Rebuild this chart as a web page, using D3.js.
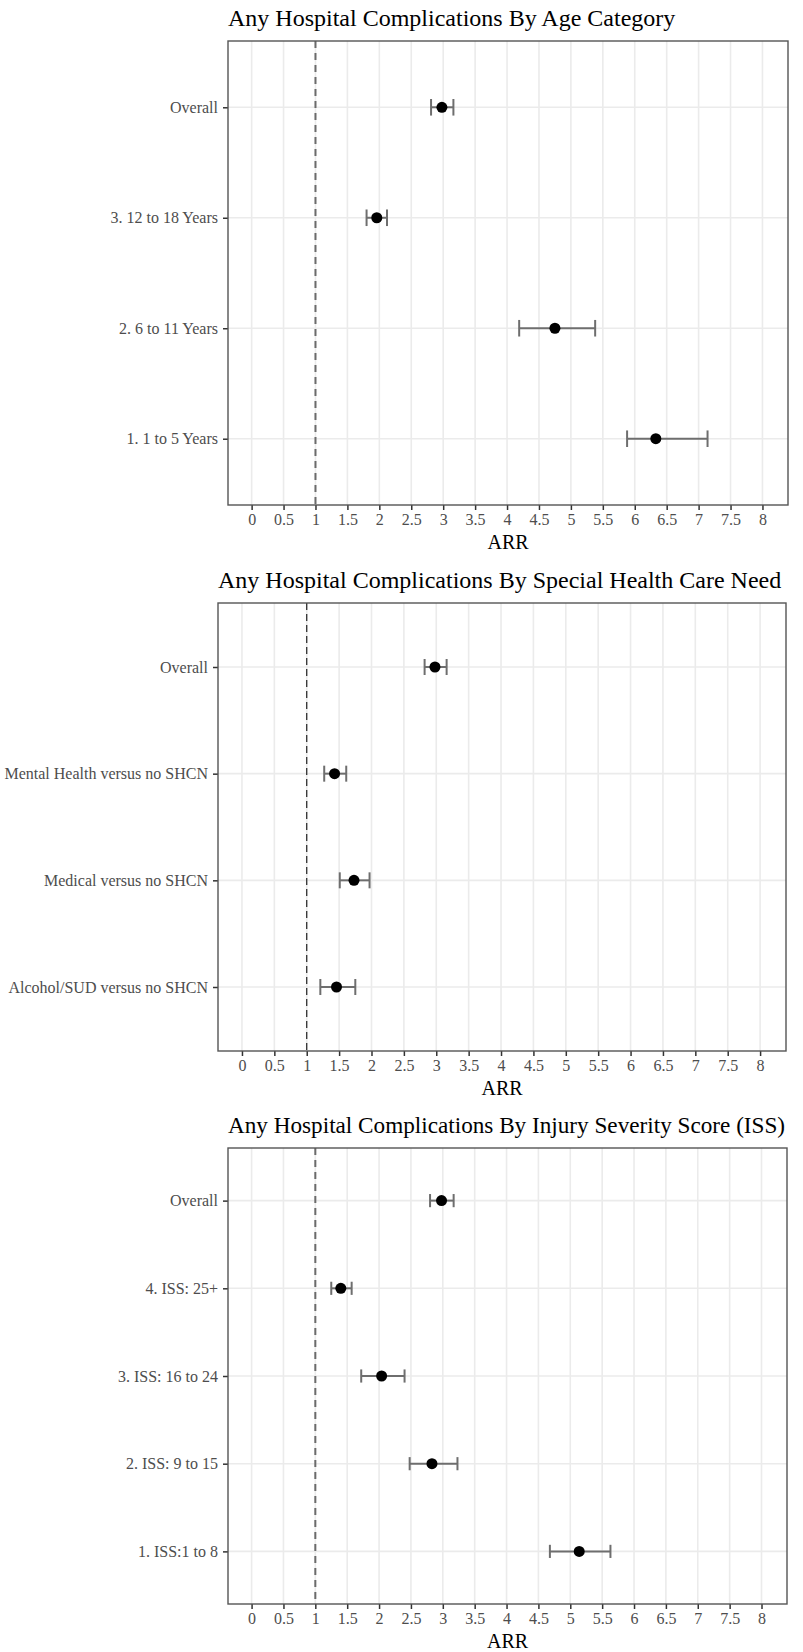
<!DOCTYPE html>
<html>
<head>
<meta charset="utf-8">
<script src="https://cdn.jsdelivr.net/npm/d3@7"></script>
<style>
  body { margin: 0; background: #fff; }
  text { font-family: "Liberation Serif", "Times New Roman", serif; }
</style>
</head>
<body>
<svg id="chart"></svg>
<script>
const xTicks = [0, 0.5, 1, 1.5, 2, 2.5, 3, 3.5, 4, 4.5, 5, 5.5, 6, 6.5, 7, 7.5, 8];

const ageCats = ["Overall", "3. 12 to 18 Years", "2. 6 to 11 Years", "1. 1 to 5 Years"];
const ageEst = [2.98, 1.96, 4.75, 6.33];
const ageLo  = [2.81, 1.80, 4.19, 5.88];
const ageHi  = [3.16, 2.12, 5.38, 7.14];

const shcnCats = ["Overall", "Mental Health versus no SHCN", "Medical versus no SHCN", "Alcohol/SUD versus no SHCN"];
const shcnEst = [2.98, 1.43, 1.73, 1.46];
const shcnLo  = [2.82, 1.27, 1.51, 1.21];
const shcnHi  = [3.16, 1.61, 1.97, 1.75];

const issCats = ["Overall", "4. ISS: 25+", "3. ISS: 16 to 24", "2. ISS: 9 to 15", "1. ISS:1 to 8"];
const issEst = [2.98, 1.40, 2.04, 2.83, 5.14];
const issLo  = [2.80, 1.25, 1.72, 2.48, 4.68];
const issHi  = [3.17, 1.57, 2.40, 3.23, 5.63];

const titles = [
  "Any Hospital Complications By Age Category",
  "Any Hospital Complications By Special Health Care Need",
  "Any Hospital Complications By Injury Severity Score (ISS)"
];

let svg = d3.select("svg#chart")
  .attr("width", 803)
  .attr("height", 1652)
  .style("background", "#fff");

// panel boxes
const panels = [
  {cats: ageCats, est: ageEst, lo: ageLo, hi: ageHi, box: [228, 788, 41, 505], titleSize: 24, ref: {color: "#6b6b6b", width: 2, dash: "7,5"}},
  {cats: shcnCats, est: shcnEst, lo: shcnLo, hi: shcnHi, box: [218, 786, 603, 1051], titleSize: 24, ref: {color: "#222", width: 1.2, dash: "7,4"}},
  {cats: issCats, est: issEst, lo: issLo, hi: issHi, box: [228, 787, 1148, 1604], titleSize: 23.2, ref: {color: "#6b6b6b", width: 2, dash: "7,5"}}
];

panels.forEach((p, k) => drawPanel(p, titles[k]));

function drawPanel(p, title) {
  const [left, right, top, bottom] = p.box;
  const x = d3.scaleLinear().domain([-0.37, 8.4]).range([left, right]);
  const y = d3.scalePoint().domain(p.cats).range([top, bottom]).padding(0.6);
  const g = svg.append("g");

  // grid
  g.append("g").selectAll("line").data(xTicks).join("line")
    .attr("x1", d => x(d)).attr("x2", d => x(d)).attr("y1", top).attr("y2", bottom)
    .attr("stroke", "#ebebeb").attr("stroke-width", 1.6);
  g.append("g").selectAll("line").data(p.cats).join("line")
    .attr("x1", left).attr("x2", right).attr("y1", d => y(d)).attr("y2", d => y(d))
    .attr("stroke", "#ebebeb").attr("stroke-width", 1.6);

  // reference line at ARR = 1
  g.append("line")
    .attr("x1", x(1)).attr("x2", x(1)).attr("y1", top).attr("y2", bottom)
    .attr("stroke", p.ref.color).attr("stroke-width", p.ref.width).attr("stroke-dasharray", p.ref.dash);

  // axes
  const xAxis = g.append("g").attr("transform", `translate(0,${bottom})`)
    .call(d3.axisBottom(x).tickValues(xTicks).tickSize(5).tickPadding(4).tickFormat(d3.format("")));
  const yAxis = g.append("g").attr("transform", `translate(${left},0)`)
    .call(d3.axisLeft(y).tickSize(5).tickPadding(5));
  [xAxis, yAxis].forEach(a => {
    a.select(".domain").remove();
    a.selectAll(".tick line").attr("stroke", "#333").attr("stroke-width", 1.5);
    a.selectAll(".tick text").attr("fill", "#4d4d4d").style("font-size", "16px")
      .style("font-family", '"Liberation Serif", serif');
  });

  // error bars
  const rows = p.cats.map((c, i) => ({c, est: p.est[i], lo: p.lo[i], hi: p.hi[i]}));
  const cap = y.step() * 0.075;
  const eb = g.append("g").attr("stroke", "#6e6e6e").attr("stroke-width", 2);
  eb.selectAll(".bar").data(rows).join("line").attr("class", "bar")
    .attr("x1", d => x(d.lo)).attr("x2", d => x(d.hi)).attr("y1", d => y(d.c)).attr("y2", d => y(d.c));
  eb.selectAll(".capl").data(rows).join("line").attr("class", "capl")
    .attr("x1", d => x(d.lo)).attr("x2", d => x(d.lo)).attr("y1", d => y(d.c) - cap).attr("y2", d => y(d.c) + cap);
  eb.selectAll(".caph").data(rows).join("line").attr("class", "caph")
    .attr("x1", d => x(d.hi)).attr("x2", d => x(d.hi)).attr("y1", d => y(d.c) - cap).attr("y2", d => y(d.c) + cap);

  g.selectAll(".pt").data(rows).join("circle").attr("class", "pt")
    .attr("cx", d => x(d.est)).attr("cy", d => y(d.c)).attr("r", 5.5).attr("fill", "#000");

  // panel border
  g.append("rect").attr("x", left).attr("y", top).attr("width", right - left).attr("height", bottom - top)
    .attr("fill", "none").attr("stroke", "#555").attr("stroke-width", 1.4);

  // titles
  g.append("text").attr("x", left).attr("y", top - 15).style("font-size", p.titleSize + "px").attr("fill", "#000").text(title);
  g.append("text").attr("x", (left + right) / 2).attr("y", bottom + 44).attr("text-anchor", "middle")
    .style("font-size", "20px").attr("fill", "#000").text("ARR");
}
</script>
</body>
</html>
